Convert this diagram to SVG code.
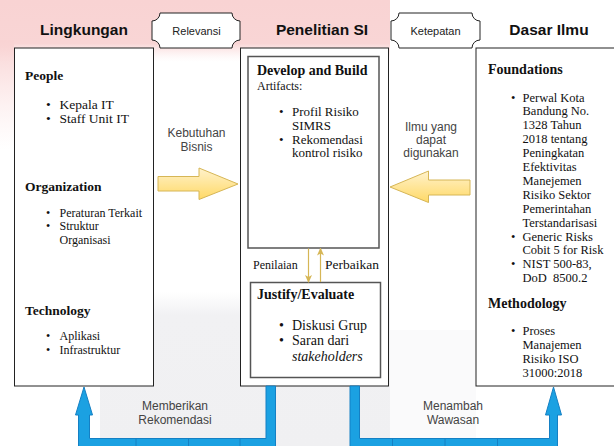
<svg xmlns="http://www.w3.org/2000/svg" width="614" height="446" viewBox="0 0 614 446">
  <defs>
    <linearGradient id="pinkFade" x1="0" y1="0" x2="0" y2="1">
      <stop offset="0" stop-color="#f9d3d3"/>
      <stop offset="0.7" stop-color="#f9d5d5"/>
      <stop offset="1" stop-color="#fdf0f0" stop-opacity="0"/>
    </linearGradient>
    <linearGradient id="pinkSide" x1="0" y1="0" x2="0" y2="1">
      <stop offset="0" stop-color="#f9d3d3"/>
      <stop offset="1" stop-color="#fbe6e6" stop-opacity="0"/>
    </linearGradient>
    <linearGradient id="greyFade" x1="0" y1="0" x2="0" y2="1">
      <stop offset="0" stop-color="#f1f1f3" stop-opacity="0"/>
      <stop offset="0.15" stop-color="#f1f1f3"/>
      <stop offset="1" stop-color="#f0f0f2"/>
    </linearGradient>
    <linearGradient id="gold" x1="0" y1="0" x2="0" y2="1">
      <stop offset="0" stop-color="#fff2cc"/>
      <stop offset="1" stop-color="#ffd966"/>
    </linearGradient>
    <marker id="tipGold" viewBox="0 0 8 8" refX="7" refY="4" markerWidth="8" markerHeight="8" markerUnits="userSpaceOnUse" orient="auto">
      <path d="M0,0.5 L8,4 L0,7.5 L2,4 Z" fill="#d6b656"/>
    </marker>
    <style>
      .title { font-family: "Liberation Sans", Arial, sans-serif; font-weight: bold; font-size: 15.5px; fill: #111; text-anchor: middle; }
      .tag { font-family: "Liberation Sans", Arial, sans-serif; font-size: 11px; fill: #222; text-anchor: middle; }
      .lbl { font-family: "Liberation Sans", Arial, sans-serif; font-size: 12px; fill: #444; text-anchor: middle; }
      .box { fill: #fff; stroke: #222; stroke-width: 1; }
      .inner { fill: #fff; stroke: #555; stroke-width: 1.5; }
      .plaque { fill: #fff; stroke: #222; stroke-width: 1; }
      .serif { font-family: "Liberation Serif", "Times New Roman", serif; fill: #111; }
      .head { font-weight: bold; font-size: 14px; }
      .h135 { font-weight: bold; font-size: 13.5px; }
      .t125 { font-size: 12.5px; }
      .t13 { font-size: 13px; }
      .t135 { font-size: 13.5px; }
      .t12 { font-size: 12px; }
      .t14 { font-size: 14px; }
      .fat { fill: url(#gold); stroke: #d6b656; stroke-width: 1; }
      .flex { fill: #1ba1e2; stroke: #1580c4; stroke-width: 1; }
      .seg { stroke: #1580c4; stroke-width: 1; }
      .thin { stroke: #d6b656; stroke-width: 1.2; fill: none; marker-end: url(#tipGold); }
    </style>
  </defs>

  <!-- background wash -->
  <rect x="0" y="0" width="614" height="446" fill="#ffffff"/>
  <rect x="0" y="0" width="390" height="62" fill="url(#pinkFade)"/>
  <rect x="0" y="40" width="14" height="110" fill="url(#pinkSide)"/>
  <rect x="100" y="292" width="290" height="154" fill="url(#greyFade)"/>
  <rect x="390" y="330" width="86" height="116" fill="#f7f7f8" opacity="0.6"/>

  <!-- column titles -->
  <text class="title" x="84" y="35">Lingkungan</text>
  <text class="title" x="322" y="35">Penelitian SI</text>
  <text class="title" x="549" y="35">Dasar Ilmu</text>

  <!-- relation tags -->
  <g id="tag-relevansi">
    <path class="plaque" d="M160,13 L232,13 A8,8 0 0 0 240,21 L240,40 A8,8 0 0 0 232,48 L160,48 A8,8 0 0 0 152,40 L152,21 A8,8 0 0 0 160,13 Z"/>
    <text class="tag" x="196.5" y="34.5">Relevansi</text>
  </g>
  <g id="tag-ketepatan">
    <path class="plaque" d="M399,13 L472,13 A8,8 0 0 0 480,21 L480,40 A8,8 0 0 0 472,48 L399,48 A8,8 0 0 0 391,40 L391,21 A8,8 0 0 0 399,13 Z"/>
    <text class="tag" x="435.5" y="34.5">Ketepatan</text>
  </g>

  <!-- environment column -->
  <g id="lingkungan">
    <rect class="box" x="14.5" y="48" width="139" height="338"/>
    <text class="serif h135" x="25" y="80">People</text>
    <text class="serif t135" x="46" y="108.5">•</text>
    <text class="serif t135" x="59.5" y="108.5">Kepala IT</text>
    <text class="serif t135" x="46" y="122.5">•</text>
    <text class="serif t135" x="59.5" y="122.5">Staff Unit IT</text>
    <text class="serif h135" x="25" y="190.5">Organization</text>
    <text class="serif t12" x="46" y="216.5">•</text>
    <text class="serif t12" x="59.5" y="216.5">Peraturan Terkait</text>
    <text class="serif t12" x="46" y="230">•</text>
    <text class="serif t12" x="59.5" y="230">Struktur</text>
    <text class="serif t12" x="59.5" y="243.5">Organisasi</text>
    <text class="serif h135" x="25" y="315">Technology</text>
    <text class="serif t12" x="46" y="340">•</text>
    <text class="serif t12" x="59.5" y="340">Aplikasi</text>
    <text class="serif t12" x="46" y="353.5">•</text>
    <text class="serif t12" x="59.5" y="353.5">Infrastruktur</text>
  </g>

  <!-- research column -->
  <g id="penelitian">
    <rect class="box" x="240.5" y="48" width="148" height="338"/>
  </g>
  <g id="develop-build">
    <rect class="inner" x="248" y="56.5" width="131" height="191.5"/>
    <text class="serif head" x="257" y="74.5">Develop and Build</text>
    <text class="serif t12" x="257" y="90">Artifacts:</text>
    <text class="serif t13" x="279" y="116">•</text>
    <text class="serif t13" x="292" y="116">Profil Risiko</text>
    <text class="serif t13" x="292" y="129.5">SIMRS</text>
    <text class="serif t13" x="279" y="143.5">•</text>
    <text class="serif t13" x="292" y="143.5">Rekomendasi</text>
    <text class="serif t13" x="292" y="157">kontrol risiko</text>
  </g>
  <g id="justify-evaluate">
    <rect class="inner" x="250.5" y="282.5" width="130" height="95"/>
    <text class="serif head" x="257" y="298.5">Justify/Evaluate</text>
    <text class="serif t14" x="279" y="329.5">•</text>
    <text class="serif t14" x="292" y="329.5">Diskusi Grup</text>
    <text class="serif t14" x="279" y="345">•</text>
    <text class="serif t14" x="292" y="345">Saran dari</text>
    <text class="serif t14" x="292" y="360.5" font-style="italic">stakeholders</text>
  </g>

  <!-- knowledge base column -->
  <g id="dasar-ilmu">
    <rect class="box" x="476" y="48" width="150" height="338"/>
    <text class="serif head" x="488" y="73.5">Foundations</text>
    <g class="serif t125">
      <text x="511" y="101.5">•</text>
      <text x="522.5" y="101.5">Perwal Kota</text>
      <text x="522.5" y="115.4">Bandung No.</text>
      <text x="522.5" y="129.3">1328 Tahun</text>
      <text x="522.5" y="143.2">2018 tentang</text>
      <text x="522.5" y="157.1">Peningkatan</text>
      <text x="522.5" y="171">Efektivitas</text>
      <text x="522.5" y="184.9">Manejemen</text>
      <text x="522.5" y="198.8">Risiko Sektor</text>
      <text x="522.5" y="212.7">Pemerintahan</text>
      <text x="522.5" y="226.6">Terstandarisasi</text>
      <text x="511" y="240.5">•</text>
      <text x="522.5" y="240.5">Generic Risks</text>
      <text x="522.5" y="254.4">Cobit 5 for Risk</text>
      <text x="511" y="268.3">•</text>
      <text x="522.5" y="268.3">NIST 500-83,</text>
      <text x="522.5" y="282" xml:space="preserve">DoD  8500.2</text>
    </g>
    <text class="serif head" x="488" y="308">Methodology</text>
    <g class="serif t125">
      <text x="511" y="335">•</text>
      <text x="522.5" y="335">Proses</text>
      <text x="522.5" y="349">Manajemen</text>
      <text x="522.5" y="362.5">Risiko ISO</text>
      <text x="522.5" y="376.5">31000:2018</text>
    </g>
  </g>

  <!-- connectors -->
  <g id="connectors">
    <!-- business needs into research -->
    <path class="fat" d="M158,176.5 L199,176.5 L199,168 L238,184 L199,199.5 L199,191 L158,191 Z"/>
    <!-- applicable knowledge into research -->
    <path class="fat" d="M470,180 L428.5,180 L428.5,171 L390,187 L428.5,202.5 L428.5,195 L470,195 Z"/>

    <!-- assessment / refinement loop -->
    <line class="thin" x1="308.5" y1="248.5" x2="308.5" y2="282"/>
    <line class="thin" x1="320.5" y1="282" x2="320.5" y2="248.5"/>

    <!-- recommendations back to environment -->
    <path class="flex" d="M266,386 L266,438.5 L89.5,438.5 L89.5,415 L92.5,415 L84,387 L75.5,415 L78.5,415 L78.5,452 L275.5,452 L275.5,386 Z"/>
    <line class="seg" x1="136" y1="438.5" x2="136" y2="446"/>
    <line class="seg" x1="188.5" y1="438.5" x2="188.5" y2="446"/>
    <line class="seg" x1="240" y1="438.5" x2="240" y2="446"/>

    <!-- contributions back to knowledge base -->
    <path class="flex" d="M350,386 L350,452 L557.5,452 L557.5,415 L561.5,415 L553.5,387 L545.5,415 L549.5,415 L549.5,438.5 L359.5,438.5 L359.5,386 Z"/>
    <line class="seg" x1="392.5" y1="438.5" x2="392.5" y2="446"/>
    <line class="seg" x1="445" y1="438.5" x2="445" y2="446"/>
    <line class="seg" x1="497.5" y1="438.5" x2="497.5" y2="446"/>
  </g>

  <!-- connector labels -->
  <text class="lbl" x="196.5" y="137">Kebutuhan</text>
  <text class="lbl" x="196.5" y="150.5">Bisnis</text>
  <text class="lbl" x="431" y="130.5">Ilmu yang</text>
  <text class="lbl" x="431" y="143.5">dapat</text>
  <text class="lbl" x="431" y="156.5">digunakan</text>
  <text class="serif t12" x="253" y="268.5">Penilaian</text>
  <text class="serif t135" x="325" y="268.5">Perbaikan</text>
  <text class="lbl" x="175" y="409.5">Memberikan</text>
  <text class="lbl" x="175" y="423.5">Rekomendasi</text>
  <text class="lbl" x="453" y="410">Menambah</text>
  <text class="lbl" x="453" y="424">Wawasan</text>
</svg>
